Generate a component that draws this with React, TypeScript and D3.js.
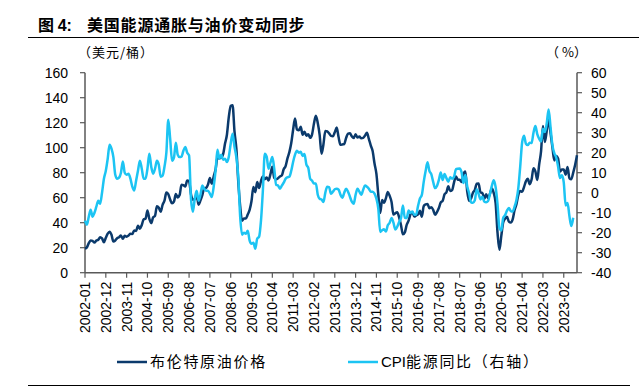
import { curveMonotoneX, line, scaleLinear } from "d3";

// Brent monthly average, USD/bbl, 2002-01 .. 2023-09
const brent = [
  19.4, 20.3, 23.7, 25.7, 25.4, 24.1, 25.7, 26.3, 28.4, 27.5, 24.3, 28.0,
  31.2, 32.8, 30.3, 25.0, 25.8, 27.6, 28.4, 29.8, 27.1, 29.6, 28.8, 29.8,
  31.2, 30.9, 33.8, 33.4, 37.6, 35.2, 38.2, 42.7, 43.2, 49.8, 43.1, 39.7,
  44.3, 45.5, 53.1, 51.9, 48.7, 54.3, 57.6, 64.1, 62.9, 58.5, 55.5, 56.8,
  62.9, 60.2, 62.1, 70.3, 70.0, 68.9, 73.7, 73.2, 62.8, 58.4, 58.8, 62.1,
  54.3, 57.8, 62.1, 67.5, 67.9, 70.6, 75.8, 71.2, 77.0, 82.5, 92.1, 91.5,
  92.2, 94.9, 103.3, 110.4, 124.6, 133.5, 133.9, 113.0, 99.0, 72.8, 53.2, 41.6,
  43.4, 43.4, 46.5, 50.2, 57.3, 68.6, 64.4, 72.5, 67.7, 73.2, 77.0, 74.7,
  76.2, 73.8, 78.8, 84.8, 75.9, 74.8, 75.6, 77.0, 77.8, 82.7, 85.3, 91.5,
  96.5, 103.7, 114.6, 123.3, 114.5, 113.9, 116.7, 110.4, 112.8, 109.6, 110.8, 107.9,
  110.7, 119.3, 125.5, 119.8, 110.3, 95.2, 102.6, 113.4, 113.0, 111.5, 109.5, 109.2,
  112.3, 116.1, 108.5, 102.3, 102.6, 102.9, 107.9, 111.3, 111.6, 109.1, 107.8, 110.8,
  108.1, 108.9, 107.5, 107.8, 109.7, 111.9, 107.0, 101.9, 97.3, 87.3, 79.0, 62.3,
  47.8, 58.1, 56.0, 59.5, 64.6, 61.5, 56.6, 46.5, 47.6, 48.4, 44.3, 38.0,
  30.7, 32.2, 38.2, 41.6, 46.7, 48.3, 44.9, 45.8, 46.6, 49.5, 44.7, 53.3,
  54.6, 54.9, 51.6, 52.3, 50.3, 46.4, 48.5, 51.7, 56.2, 57.5, 62.7, 64.4,
  69.1, 65.3, 66.0, 72.1, 77.0, 74.4, 74.3, 72.5, 78.9, 81.0, 64.8, 57.4,
  59.4, 64.0, 66.1, 71.2, 71.3, 64.2, 63.9, 59.0, 62.8, 59.7, 63.2, 67.3,
  63.7, 55.7, 32.0, 18.4, 29.4, 40.3, 43.2, 44.7, 40.9, 40.2, 42.7, 50.0,
  54.8, 62.3, 65.4, 64.8, 68.5, 73.2, 75.2, 70.8, 74.5, 83.5, 81.1, 74.2,
  86.5, 97.1, 117.3, 104.6, 113.3, 122.7, 111.9, 100.5, 89.8, 93.3, 91.4, 80.9,
  82.5, 82.6, 78.4, 84.6, 75.5, 74.8, 80.1, 86.2, 94.0,
];

// US CPI energy, year-on-year %, 2002-01 .. 2023-07
const cpiEnergy = [
  -14, -16, -12, -8.5, -12, -10, -7, -4, -5.5, 0, 7, 11,
  17, 24, 22, 17.8, 9, 7, 7.5, 10, 15.6, 10, 9, 9.5,
  7, 3, 1.1, 6, 11, 16, 12, 7, 7, 12, 19.5, 13,
  9.5, 12, 16, 14, 8, 8.5, 13, 20, 36.5, 27, 16, 17.5,
  25, 19, 17.8, 18, 21, 22.8, 20, 18.6, -3, -9.5, -3, 1,
  -4, -1, 3.6, 2, 1, 1, -0.5, -2.2, 3, 11, 21.5, 17,
  19, 16.5, 17, 15.3, 18, 24.5, 29.5, 23, 17.6, 8, -12, -21,
  -20, -20.5, -19, -24, -25.5, -25, -28, -23, -22, -14, 1.1, 19.5,
  18, 12, 15, 17.8, 12, 4, 3.6, 2, 3.5, 5, 7, 7.7,
  8, 11, 15.5, 19, 21, 20, 20.5, 18.4, 19.3, 14, 12.4, 7,
  6, 4.6, 4.6, -1, -3, -3.4, -4.7, 0, 3, 2.8, -0.5, 0.5,
  1.7, 2, 1.5, -1, -2.5, 0, 2, 0.5, -2, -4.5, -5.5, -1,
  2, 0.5, -1, 1.5, 3.6, 3, 2, 0.5, 0.5, -0.5, -3, -8,
  -19.6, -18.8, -18.3, -19.4, -16.3, -15, -12.6, -15, -18.4, -17, -14.7, -12.6,
  -6.4, -12.5, -12.6, -8.9, -10.1, -9.4, -11, -10.9, -6.6, -2.9, -1.1, 5.4,
  10.8, 15.2, 10.9, 9.3, 5.4, 2.3, 3.4, 6.4, 10.1, 6.4, 9.4, 7.3,
  5.5, 7.7, 7, 7.9, 11.7, 12, 12.1, 10.2, 4.8, 8.9, 3.1, -0.3,
  -4.8, -5, -3.8, 1.7, -0.6, -3.4, -2, -4.4, -4.8, -4.2, -0.6, 3.4,
  6.2, 2.8, -5.7, -17.7, -18.9, -12.6, -11.2, -9, -7.7, -9.2, -9.4, -7,
  -3.6, 2.4, 13.2, 25.1, 28.5, 24.5, 23.8, 25, 24.8, 30, 33.3, 29.3,
  27, 25.6, 32, 30.3, 34.6, 41.6, 32.9, 23.8, 19.8, 17.6, 13.1, 7.3,
  8.7, 5.2, -6.4, -5.1, -11.7, -16.7, -12.5,
];

const months = brent.map((_, i) => {
  const y = 2002 + Math.floor(i / 12);
  const m = (i % 12) + 1;
  return `${y}-${m < 10 ? "0" + m : m}`;
});

const leftTicks = [0, 20, 40, 60, 80, 100, 120, 140, 160];
const rightTicks = [-40, -30, -20, -10, 0, 10, 20, 30, 40, 50, 60];
const xTickStep = 11;

const DARK = "#0b3a6c";
const CYAN = "#1cc4f3";
const AXIS = "#595959";
const FONT = "'Liberation Sans', Arial, 'Noto Sans CJK SC', sans-serif";
const CJK = "'Noto Sans CJK SC', 'Liberation Sans', sans-serif";

export default function App() {
  const width = 639;
  const height = 389;
  const left = 85;
  const right = 577;
  const top = 72.7;
  const bottom = 272.7;

  const x = scaleLinear().domain([0, brent.length - 1]).range([left, right]);
  const yL = scaleLinear().domain([0, 160]).range([bottom, top]);
  const yR = scaleLinear().domain([-40, 60]).range([bottom, top]);

  const brentPath = line<number>()
    .x((_, i) => x(i))
    .y((v) => yL(v))
    .curve(curveMonotoneX)(brent);
  const cpiPath = line<number>()
    .x((_, i) => x(i))
    .y((v) => yR(v))
    .curve(curveMonotoneX)(cpiEnergy);

  const xTicks = months.map((m, i) => ({ m, i })).filter((d) => d.i % xTickStep === 0);

  return (
    <svg
      width={width}
      height={height}
      style={{ position: "absolute", left: 0, top: 0, background: "#fff" }}
    >
      <text x={38} y={31} fontFamily={CJK} fontSize={16} fontWeight="bold" fill="#000">
        图 <tspan fontFamily={FONT}>4:</tspan>
      </text>
      <text x={87} y={31} fontFamily={CJK} fontSize={16} fontWeight="bold" letterSpacing={0.8} fill="#000">
        美国能源通胀与油价变动同步
      </text>
      <line x1={28} x2={639} y1={37.5} y2={37.5} stroke="#000" strokeWidth={1} />

      <text x={78} y={57} fontFamily={CJK} fontSize={13} letterSpacing={1} fill="#000">
        （美元/桶）
      </text>
      <text x={546} y={57} fontFamily={CJK} fontSize={13} fill="#000">
        （ %）
      </text>

      {/* left axis */}
      <line x1={left} x2={left} y1={top} y2={bottom} stroke={AXIS} strokeWidth={1.5} />
      {leftTicks.map((t) => (
        <g key={`l${t}`}>
          <line x1={left - 5} x2={left} y1={yL(t)} y2={yL(t)} stroke={AXIS} strokeWidth={1.2} />
          <text x={68} y={yL(t) + 5} textAnchor="end" fontFamily={FONT} fontSize={14} fill="#000">
            {t}
          </text>
        </g>
      ))}

      {/* right axis */}
      <line x1={right} x2={right} y1={top} y2={bottom} stroke={AXIS} strokeWidth={1.5} />
      {rightTicks.map((t) => (
        <g key={`r${t}`}>
          <line x1={right} x2={right + 5} y1={yR(t)} y2={yR(t)} stroke={AXIS} strokeWidth={1.2} />
          <text x={591} y={yR(t) + 5} fontFamily={FONT} fontSize={14} fill="#000">
            {t}
          </text>
        </g>
      ))}

      {/* x axis */}
      <line x1={left} x2={right} y1={bottom} y2={bottom} stroke={AXIS} strokeWidth={1.5} />
      {xTicks.map(({ m, i }) => (
        <g key={m}>
          <line x1={x(i)} x2={x(i)} y1={bottom} y2={bottom + 5} stroke={AXIS} strokeWidth={1.2} />
          <text
            transform={`translate(${x(i) + 5},${bottom + 9}) rotate(-90)`}
            textAnchor="end"
            fontFamily={FONT}
            fontSize={14}
            fill="#000"
          >
            {m}
          </text>
        </g>
      ))}

      {brentPath ? (
        <path d={brentPath} fill="none" stroke={DARK} strokeWidth={2.5} strokeLinejoin="round" />
      ) : null}
      {cpiPath ? (
        <path d={cpiPath} fill="none" stroke={CYAN} strokeWidth={2.5} strokeLinejoin="round" />
      ) : null}

      {/* legend */}
      <line x1={117} x2={147} y1={362} y2={362} stroke={DARK} strokeWidth={2.5} />
      <text x={150} y={367} fontFamily={CJK} fontSize={15} letterSpacing={1.7} fill="#000">
        布伦特原油价格
      </text>
      <line x1={348} x2={378} y1={362} y2={362} stroke={CYAN} strokeWidth={2.5} />
      <text x={381} y={367} fontFamily={CJK} fontSize={15} fill="#000">
        <tspan fontFamily={FONT}>CPI</tspan>
        <tspan letterSpacing={1.7}>能源同比（右轴）</tspan>
      </text>

      <line x1={28} x2={630} y1={385.5} y2={385.5} stroke="#000" strokeWidth={1} />
    </svg>
  );
}
